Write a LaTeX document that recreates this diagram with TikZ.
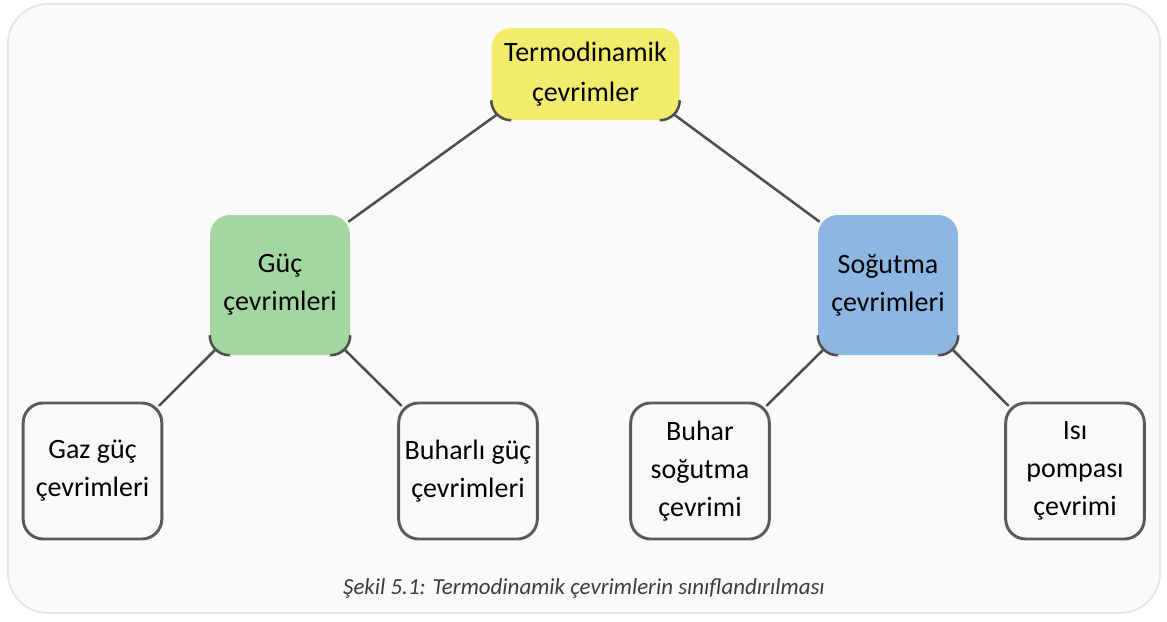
\documentclass[tikz,border=0pt]{standalone}
\usepackage{fontspec}
\setmainfont{Carlito}
\usetikzlibrary{calc}
\definecolor{topyel}{HTML}{F1EC6C}
\definecolor{grn}{HTML}{A3D7A1}
\definecolor{blu}{HTML}{8EB6E3}
\definecolor{edge}{HTML}{4E4E4E}
\definecolor{boxline}{HTML}{5A5A5A}
\definecolor{boxfill}{HTML}{F8F9FA}
\definecolor{frame}{HTML}{E6E6E6}
\definecolor{capc}{HTML}{3C3C3C}
\tikzset{
  cbox/.style={rounded corners=15pt, align=center, inner sep=0pt,
    font=\fontsize{21}{28.5}\selectfont, text=black},
  leafbox/.style={cbox, draw=boxline, line width=2.2pt, fill=boxfill,
    minimum width=104pt, minimum height=102pt},
  midbox/.style={cbox, minimum width=105pt, minimum height=105pt},
  link/.style={draw=edge, line width=1.9pt, line cap=round},
}
\begin{document}
\begin{tikzpicture}[x=0.75pt,y=-0.75pt]
\useasboundingbox (0,0) rectangle (1167,621);
\fill[white] (0,0) rectangle (1167,621);
\draw[frame, line width=1.5pt, fill=white!98!black, rounded corners=30pt] (8,4) rectangle (1160,613);

\node[cbox, fill=topyel, minimum width=141pt, minimum height=69pt, font=\fontsize{21}{29.5}\selectfont] (top) at (585.5,74) {Termodinamik\\çevrimler};
\node[midbox, fill=grn] (guc) at (280,285) {Güç\\çevrimleri};
\node[midbox, fill=blu] (sog) at (888,285) {Soğutma\\çevrimleri};

\node[leafbox] (gaz) at (92.5,471) {Gaz güç\\çevrimleri};
\node[leafbox] (buh) at (468,471) {Buharlı güç\\çevrimleri};
\node[leafbox] (bsog) at (700,471) {Buhar\\soğutma\\çevrimi};
\node[leafbox] (isi) at (1075,471) {Isı\\pompası\\çevrimi};

% corner arcs on coloured boxes
\foreach \n in {top,guc,sog}{
  \draw[edge, line width=1.9pt] ([yshift=15pt]\n.south west) arc[start angle=180,end angle=270,radius=15pt];
  \draw[edge, line width=1.9pt] ([yshift=15pt]\n.south east) arc[start angle=0,end angle=-90,radius=15pt];
}

% connectors
\path[link] ($(top.south west)+(4.4pt,4.4pt)$) -- ($(guc.north east)+(-1pt,-5pt)$);
\path[link] ($(top.south east)+(-4.4pt,4.4pt)$) -- ($(sog.north west)+(1pt,-5pt)$);
\path[link] ($(guc.south west)+(4.4pt,4.4pt)$) -- ($(gaz.north east)+(-3pt,-3pt)$);
\path[link] ($(guc.south east)+(-4.4pt,4.4pt)$) -- ($(buh.north west)+(3pt,-3pt)$);
\path[link] ($(sog.south west)+(4.4pt,4.4pt)$) -- ($(bsog.north east)+(-3pt,-3pt)$);
\path[link] ($(sog.south east)+(-4.4pt,4.4pt)$) -- ($(isi.north west)+(3pt,-3pt)$);

\node[font=\fontsize{17.2}{20}\selectfont\itshape, text=capc] (cap) at (584,588) {Şekil 5.1: Termodinamik çevrimlerin sınıflandırılması};
\end{tikzpicture}
\end{document}
